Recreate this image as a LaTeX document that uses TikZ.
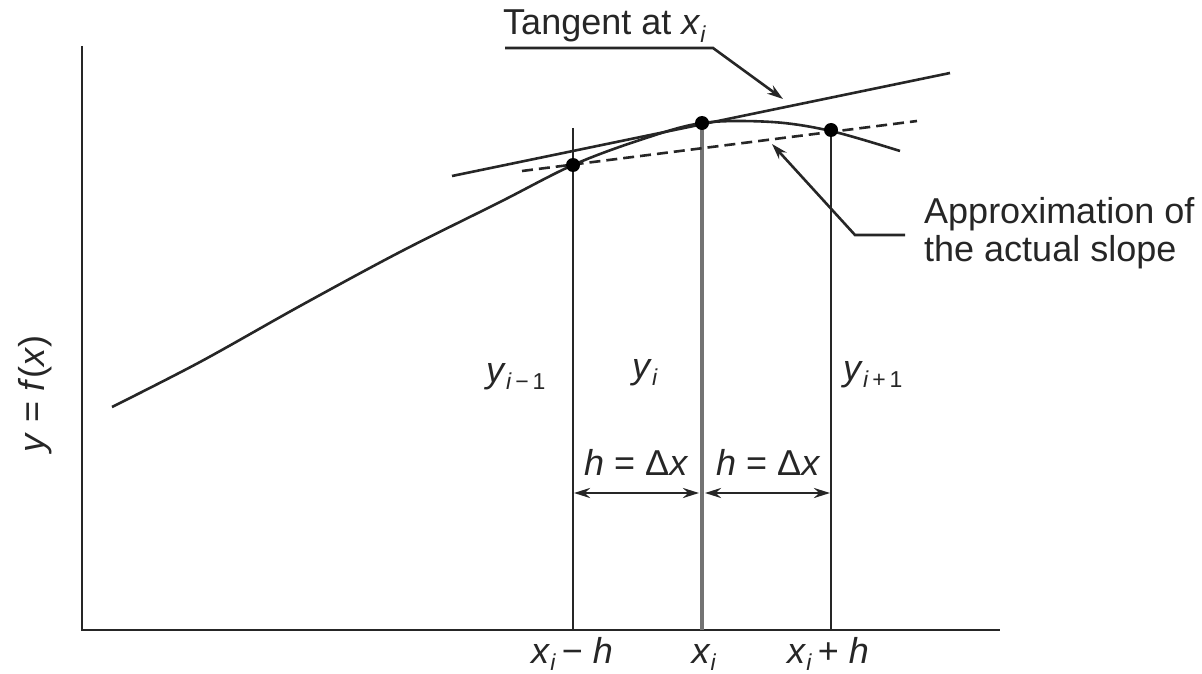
\documentclass[tikz,border=0pt]{standalone}
\usepackage{fontspec}
\setmainfont{Liberation Sans}
\usetikzlibrary{arrows.meta}
\newcommand\sbx[1]{\raisebox{-0.22em}{\fontsize{23}{25}\selectfont #1}}
\begin{document}
\begin{tikzpicture}[x=1pt,y=-1pt,
  lbl/.style={font=\fontsize{36}{42}\selectfont, inner sep=0pt, text=black!85},
  ln/.style={line width=2.6pt, black!85},
  tip/.style={-{Stealth[length=16pt,width=10pt]}},
  dtip/.style={{Stealth[length=16pt,width=10pt]}-{Stealth[length=16pt,width=10pt]}},
  dot/.style={fill=black}]
\useasboundingbox (0,0) rectangle (1202,674);
% axes
\coordinate (O) at (82,630);
\coordinate (Ytop) at (82,46);
\coordinate (Xend) at (1000,630);
\draw[ln, line width=2.8pt] (Ytop) -- (O) -- (Xend);
% points
\coordinate (P1) at (573,165);
\coordinate (P2) at (702,123);
\coordinate (P3) at (831,130);
\coordinate (V1top) at (573,128);
\coordinate (V1bot) at (573,630);
\coordinate (V2bot) at (702,630);
\coordinate (V3bot) at (831,630);
% verticals
\draw[ln] (V1top) -- (V1bot);
\draw[line width=4.5pt, black!55] (P2) -- (V2bot);
\draw[ln] (P3) -- (V3bot);
% curve
\draw[ln] plot[smooth, tension=0.55] coordinates {(112,407) (200,362) (300,306) (400,252) (500,202) (573,165) (640,140) (702,123) (772,122) (831,131) (900,151)};
% tangent
\coordinate (Ta) at (452,176);
\coordinate (Tb) at (950,73);
\draw[ln] (Ta) -- (Tb);
% dashed secant
\coordinate (Da) at (522,171);
\coordinate (Db) at (917,121);
\draw[ln, dash pattern=on 11pt off 6pt] (Da) -- (Db);
% dots
\fill[dot] (P1) circle[radius=7pt];
\fill[dot] (P2) circle[radius=7pt];
\fill[dot] (P3) circle[radius=7pt];
% tangent label
\node[lbl, anchor=base west] (tlab) at (503,35) {Tangent at \textit{x}\sbx{\textit{i}}};
\coordinate (tu1) at (505,48);
\coordinate (tu2) at (713,48);
\coordinate (tarr) at (783,99);
\draw[ln, tip] (tu1) -- (tu2) -- (tarr);
% approximation label
\node[lbl, anchor=base west] (alab1) at (924,223) {Approximation of};
\node[lbl, anchor=base west] (alab2) at (924,261) {the actual slope};
\coordinate (au1) at (905,235);
\coordinate (au2) at (855,235);
\coordinate (aarr) at (772,144);
\draw[ln, tip] (au1) -- (au2) -- (aarr);
% y labels
\node[lbl, anchor=base west] (y1) at (486,382) {\textit{y}\sbx{\textit{i}\,−\,1}};
\node[lbl, anchor=base west] (y2) at (632,378) {\textit{y}\sbx{\textit{i}}};
\node[lbl, anchor=base west] (y3) at (843,380) {\textit{y}\sbx{\textit{i}\,+\,1}};
% h labels
\node[lbl, anchor=base west] (h1) at (584,475) {\textit{h} = Δ\textit{x}};
\node[lbl, anchor=base west] (h2) at (716,475) {\textit{h} = Δ\textit{x}};
\coordinate (A1) at (574,493);
\coordinate (A2l) at (699,493);
\coordinate (A2r) at (705,493);
\coordinate (A3) at (830,493);
\draw[ln, dtip] (A1) -- (A2l);
\draw[ln, dtip] (A2r) -- (A3);
% x labels
\node[lbl, anchor=base west] (x1) at (531,663) {\textit{x}\sbx{\textit{i}}\,− \textit{h}};
\node[lbl, anchor=base] (x2) at (704,663) {\textit{x}\sbx{\textit{i}}};
\node[lbl, anchor=base west] (x3) at (787,663) {\textit{x}\sbx{\textit{i}}\,+ \textit{h}};
% y axis label
\node[lbl, rotate=90, anchor=base] (ylab) at (44,394) {\textit{y} = \textit{f}(\textit{x})};
\end{tikzpicture}
\end{document}
